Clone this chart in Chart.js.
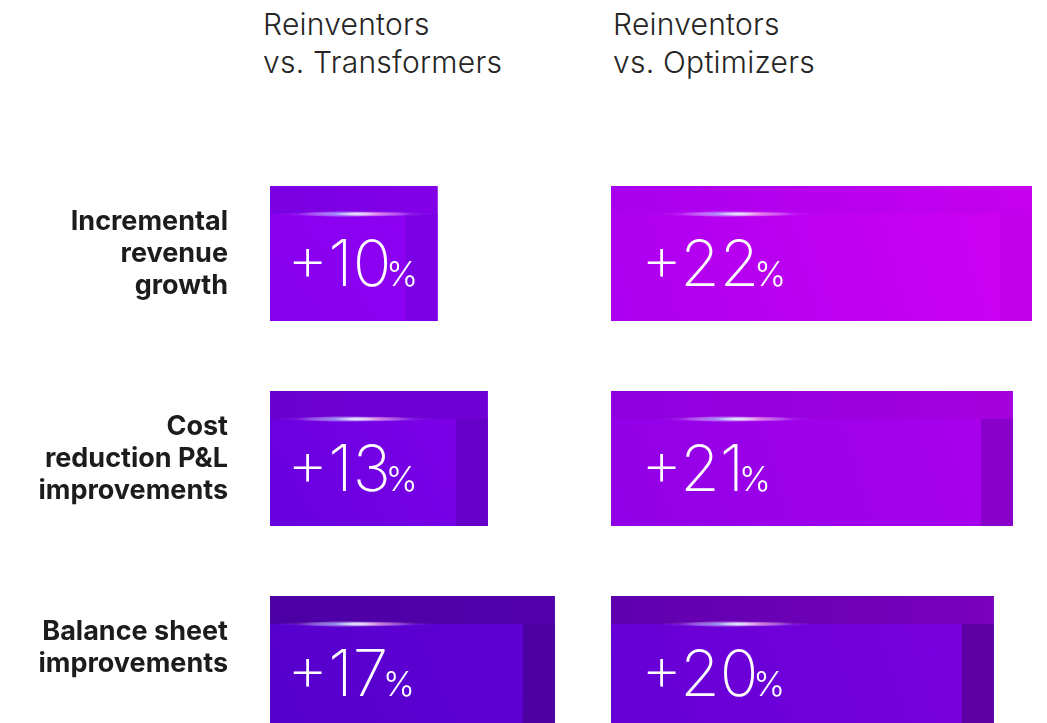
<!DOCTYPE html>
<html lang="en">
<head>
  <meta charset="UTF-8">
  <title>Reinventors vs. Transformers / Optimizers</title>
  <style>
    html, body { margin: 0; padding: 0; background: #fff; overflow: hidden; }
    .page { position: relative; width: 1047px; height: 723px; overflow: hidden; }
    .head {
      position: absolute;
      top: 5px;
      font-family: Inter, "Noto Sans", sans-serif;
      font-weight: 300;
      font-size: 30px;
      letter-spacing: 0.25px;
      line-height: 38px;
      color: #252525;
      white-space: nowrap;
    }
    .box { position: absolute; top: 0; height: 780px; }
    #leftBox { left: 0; width: 605px; }
    #rightBox { left: 611px; width: 436px; }
  </style>
</head>
<body>
<div class="page">
  <div class="head" id="head0" style="left:263px"></div>
  <div class="head" id="head1" style="left:613px"></div>
  <div class="box" id="leftBox"><canvas id="leftChart"></canvas></div>
  <div class="box" id="rightBox"><canvas id="rightChart"></canvas></div>
</div>

<script src="https://cdn.jsdelivr.net/npm/chart.js/dist/chart.umd.min.js"></script>
<script>
  // data
  const categories = [
    ['Incremental', 'revenue', 'growth'],
    ['Cost', 'reduction P&L', 'improvements'],
    ['Balance sheet', 'improvements']
  ];
  const columnTitles = [
    ['Reinventors', 'vs. Transformers'],
    ['Reinventors', 'vs. Optimizers']
  ];
  const vsTransformers = [10, 13, 17];
  const vsOptimizers = [22, 21, 20];

  columnTitles.forEach((t, i) => {
    document.getElementById('head' + i).innerHTML = t.join('<br>');
  });

  // colours for each bar: top band, inner panel, right strip
  const leftPalette = [
    { band: ['#7a00e2', '#8200e8'], inner: ['#8600ee', '#8e00f2'], strip: '#7c00e4' },
    { band: ['#6a00d0', '#7000d6'], inner: ['#6600de', '#7c00e8'], strip: '#6600c8' },
    { band: ['#4c00a4', '#5200aa'], inner: ['#5600cc', '#5e00d4'], strip: '#4c00a0' }
  ];
  const rightPalette = [
    { band: ['#a800ee', '#c600ee'], inner: ['#ac00f0', '#cc00f2'], strip: '#c000e6' },
    { band: ['#8e00e0', '#a400dc'], inner: ['#9000e6', '#a800ec'], strip: '#8800ca' },
    { band: ['#5e00ae', '#7a00bc'], inner: ['#6400d4', '#7800de'], strip: '#5c00a4' }
  ];

  // paints the panels, the light streak, the value labels and (left chart) the row labels
  const barFx = {
    id: 'barFx',
    afterDatasetsDraw(chart, args, opts) {
      const ctx = chart.ctx;
      const meta = chart.getDatasetMeta(0);
      const values = chart.data.datasets[0].data;
      meta.data.forEach((bar, i) => {
        const p = bar.getProps(['x', 'y', 'base', 'height'], true);
        const left = Math.min(p.base, p.x), right = Math.max(p.base, p.x);
        const top = p.y - p.height / 2, bottom = p.y + p.height / 2;
        const pal = opts.palette[i];
        const band = 28, strip = 32;

        ctx.save();
        let g = ctx.createLinearGradient(left, 0, right, 0);
        g.addColorStop(0, pal.band[0]);
        g.addColorStop(1, pal.band[1]);
        ctx.fillStyle = g;
        ctx.fillRect(left, top, right - left, bottom - top);

        ctx.fillStyle = pal.strip;
        ctx.fillRect(right - strip, top + band, strip, bottom - top - band);

        g = ctx.createLinearGradient(left, bottom, right - strip, top + band);
        g.addColorStop(0, pal.inner[0]);
        g.addColorStop(1, pal.inner[1]);
        ctx.fillStyle = g;
        ctx.fillRect(left, top + band, right - strip - left, bottom - top - band);

        // glow streak on the inner panel edge
        const cy = top + band, cx = left + opts.glowX;
        const blobs = [
          [cx, 80, 3, 'rgba(200,150,255,0.35)'],
          [cx - 10, 48, 3, 'rgba(120,165,255,0.85)'],
          [cx + 20, 38, 2.6, 'rgba(255,120,210,0.75)'],
          [cx + 2, 24, 2, 'rgba(235,240,255,1)']
        ];
        blobs.forEach(([bx, rx, ry, col]) => {
          ctx.save();
          ctx.translate(bx, cy);
          ctx.scale(rx, ry);
          const rg = ctx.createRadialGradient(0, 0, 0, 0, 0, 1);
          rg.addColorStop(0, col);
          rg.addColorStop(1, 'rgba(255,255,255,0)');
          ctx.fillStyle = rg;
          ctx.beginPath();
          ctx.arc(0, 0, 1, 0, Math.PI * 2);
          ctx.fill();
          ctx.restore();
        });

        // value label
        const num = '+' + values[i];
        const tx = left + opts.inset, ty = p.y + 32;
        ctx.fillStyle = '#fff';
        ctx.textBaseline = 'alphabetic';
        ctx.textAlign = 'left';
        ctx.font = '200 64px Inter, Roboto, sans-serif';
        ctx.fillText(num, tx, ty);
        const w = ctx.measureText(num).width;
        ctx.font = '300 34px Inter, Roboto, sans-serif';
        ctx.fillText('%', tx + w - 5, ty);

        // row label
        if (opts.rowLabels) {
          const lines = chart.data.labels[i];
          ctx.fillStyle = '#1c1c1c';
          ctx.textAlign = 'right';
          ctx.textBaseline = 'middle';
          ctx.font = 'bold 27px Inter, "Noto Sans", sans-serif';
          lines.forEach((ln, k) => ctx.fillText(ln, chart.chartArea.left - 42, top + 36 + k * 32));
        }
        ctx.restore();
      });
    }
  };

  function makeChart(id, values, palette, rowLabels, xMax, pad, inset, glowX) {
    return new Chart(document.getElementById(id), {
      type: 'bar',
      data: {
        labels: categories,
        datasets: [{
          data: values,
          backgroundColor: palette.map(c => c.band[0]),
          borderWidth: 0,
          barPercentage: 135 / 205,
          categoryPercentage: 1
        }]
      },
      options: {
        indexAxis: 'y',
        responsive: true,
        maintainAspectRatio: false,
        animation: false,
        layout: { padding: { top: 151, bottom: 14, left: pad[0], right: pad[1] } },
        scales: {
          x: { display: false, min: 0, max: xMax },
          y: { display: false }
        },
        plugins: {
          legend: { display: false },
          tooltip: { enabled: false },
          barFx: { palette, inset, glowX, rowLabels }
        }
      },
      plugins: [barFx]
    });
  }

  makeChart('leftChart', vsTransformers, leftPalette, true, 20, [270, 0], 17, 85);
  makeChart('rightChart', vsOptimizers, rightPalette, false, 22, [0, 15], 30, 125);
</script>
</body>
</html>
